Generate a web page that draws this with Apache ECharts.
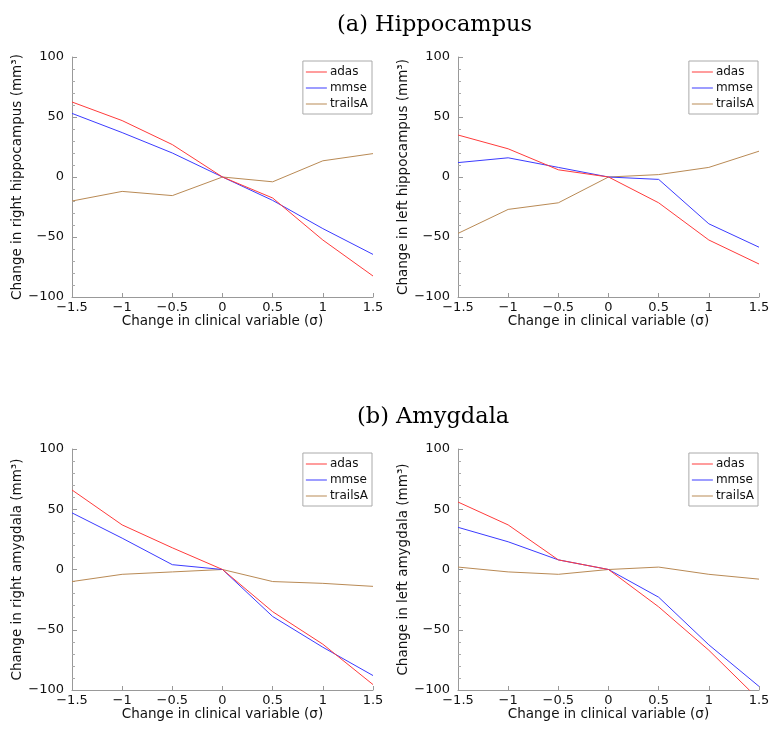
<!DOCTYPE html>
<html>
<head>
<meta charset="utf-8">
<script src="https://cdn.jsdelivr.net/npm/echarts@6/dist/echarts.min.js"></script>
<style>
html,body{margin:0;padding:0;background:#fff;}
#chart{width:781px;height:740px;}
</style>
</head>
<body>
<div id="chart"></div>
<script>
// ---- data ----
const xValues = [-1.5, -1, -0.5, 0, 0.5, 1, 1.5];
const seriesNames = ['adas', 'mmse', 'trailsA'];
const panelTitles = ['(a) Hippocampus', '(b) Amygdala'];
const yAxisNames = [
  'Change in right hippocampus (mm³)',
  'Change in left hippocampus (mm³)',
  'Change in right amygdala (mm³)',
  'Change in left amygdala (mm³)'
];
const xAxisName = 'Change in clinical variable (σ)';

// right hippocampus
const rHippoAdas    = [62.5, 47, 27, 0, -17.5, -52.5, -82.5];
const rHippoMmse    = [53, 37, 20, 0, -19.5, -43, -64.5];
const rHippoTrailsA = [-20, -12, -15.5, 0, -4, 13.5, 19.5];
// left hippocampus
const lHippoAdas    = [35, 23.5, 6, 0, -21.5, -52.5, -72.5];
const lHippoMmse    = [12, 16, 8, 0, -2, -39, -58.5];
const lHippoTrailsA = [-47, -27, -21.5, 0, 2, 8, 21.5];
// right amygdala
const rAmygAdas     = [66, 37, 18, 0, -35, -62, -95.5];
const rAmygMmse     = [47, 26, 4, 0, -39, -64.5, -88];
const rAmygTrailsA  = [-10, -4, -2, 0, -10, -11.5, -14];
// left amygdala
const lAmygAdas     = [56, 37, 8, 0, -31, -67, -108];
const lAmygMmse     = [35, 23, 8, 0, -23, -62.5, -97];
const lAmygTrailsA  = [2, -2, -4, 0, 2, -4, -8];

const panels = [
  [rHippoAdas, rHippoMmse, rHippoTrailsA],
  [lHippoAdas, lHippoMmse, lHippoTrailsA],
  [rAmygAdas, rAmygMmse, rAmygTrailsA],
  [lAmygAdas, lAmygMmse, lAmygTrailsA]
];

// ---- layout / style ----
const colors = ['#ff3b3b', '#3b3bff', '#b98a55'];
const sansFont = 'DejaVu Sans';
const gridBoxes = [
  {left: 72, width: 301, top: 57, height: 240},
  {left: 458, width: 301, top: 57, height: 240},
  {left: 72, width: 301, top: 449, height: 241},
  {left: 458, width: 301, top: 449, height: 241}
];
const legendPos = [
  {right: 409, top: 61},
  {right: 23, top: 61},
  {right: 409, top: 453},
  {right: 23, top: 453}
];
const minusFmt = v => String(v).replace('-', '\u2212');

const grid = gridBoxes.map(g => Object.assign({containLabel: false}, g));
const xAxis = gridBoxes.map((g, i) => ({
  type: 'value', gridIndex: i, min: -1.5, max: 1.5, interval: 0.5,
  name: xAxisName, nameLocation: 'middle', nameGap: 16,
  nameTextStyle: {fontFamily: sansFont, fontSize: 13.5, color: '#111'},
  axisLine: {onZero: false, lineStyle: {color: '#999', width: 1}},
  axisTick: {inside: true, length: 4, lineStyle: {color: '#999'}},
  axisLabel: {fontFamily: sansFont, fontSize: 13, color: '#111', margin: 4, formatter: minusFmt},
  splitLine: {show: false}
}));
const yAxis = gridBoxes.map((g, i) => ({
  type: 'value', gridIndex: i, min: -100, max: 100, interval: 50,
  name: yAxisNames[i], nameLocation: 'middle', nameGap: 38,
  nameTextStyle: {fontFamily: sansFont, fontSize: 13.5, color: '#111'},
  axisLine: {show: true, onZero: false, lineStyle: {color: '#999', width: 1}},
  axisTick: {inside: true, length: 5, lineStyle: {color: '#999'}},
  minorTick: {show: true, splitNumber: 5, length: 3, lineStyle: {color: '#aaa'}},
  axisLabel: {fontFamily: sansFont, fontSize: 13, color: '#111', margin: 8, formatter: minusFmt},
  splitLine: {show: false}
}));
const legend = legendPos.map(p => Object.assign({
  data: seriesNames,
  orient: 'vertical',
  icon: 'rect',
  itemWidth: 21, itemHeight: 1, itemGap: 2,
  padding: [4, 4, 3, 3],
  borderColor: '#aaa', borderWidth: 1, borderRadius: 0,
  backgroundColor: '#fff',
  textStyle: {fontFamily: sansFont, fontSize: 12, color: '#111', lineHeight: 14, padding: [0, 0, 0, -2]}
}, p));

const series = [];
panels.forEach((vals, pi) => {
  vals.forEach((arr, si) => {
    series.push({
      type: 'line', name: seriesNames[si], xAxisIndex: pi, yAxisIndex: pi,
      data: xValues.map((x, k) => [x, arr[k]]),
      symbol: 'none', clip: true,
      lineStyle: {color: colors[si], width: 1},
      itemStyle: {color: colors[si]},
      z: 3 - si,
      animation: false
    });
  });
});

const titleStyle = {fontFamily: 'DejaVu Serif', fontSize: 22.5, fontWeight: 'normal', color: '#000'};
const title = [
  {text: panelTitles[0], left: 332, top: 9, textStyle: titleStyle},
  {text: panelTitles[1], left: 352, top: 401, textStyle: titleStyle}
];

const chart = echarts.init(document.getElementById('chart'), null, {renderer: 'canvas'});
chart.setOption({
  animation: false,
  backgroundColor: '#fff',
  title, grid, xAxis, yAxis, legend, series
});
</script>
</body>
</html>
